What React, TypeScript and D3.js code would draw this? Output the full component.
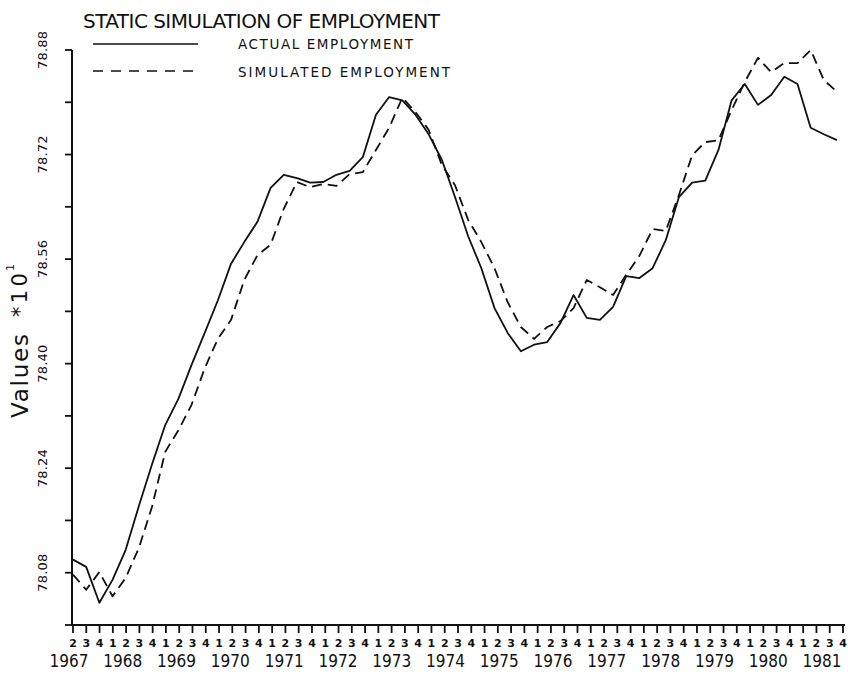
import React from "react";
import * as d3 from "d3";

// ---- data -------------------------------------------------------------
const years = [1967, 1968, 1969, 1970, 1971, 1972, 1973, 1974, 1975, 1976, 1977, 1978, 1979, 1980, 1981];
const firstQuarter = 2; // series starts in 1967 Q2, ends 1981 Q4

const actualEmployment = [
  78.100, 78.089, 78.034, 78.069, 78.115, 78.182, 78.246, 78.306, 78.346, 78.398,
  78.447, 78.497, 78.553, 78.586, 78.617, 78.669, 78.689, 78.684, 78.677, 78.678,
  78.689, 78.695, 78.716, 78.781, 78.808, 78.803, 78.781, 78.751, 78.712, 78.655,
  78.595, 78.546, 78.485, 78.447, 78.419, 78.429, 78.433, 78.462, 78.505, 78.470,
  78.467, 78.487, 78.534, 78.531, 78.546, 78.589, 78.655, 78.677, 78.680, 78.727,
  78.803, 78.828, 78.796, 78.811, 78.839, 78.828, 78.761, 78.751, 78.742,
];

const simulatedEmployment = [
  78.077, 78.054, 78.081, 78.044, 78.072, 78.118, 78.181, 78.265, 78.298, 78.337,
  78.393, 78.438, 78.467, 78.528, 78.566, 78.582, 78.637, 78.678, 78.670, 78.675,
  78.672, 78.690, 78.693, 78.727, 78.761, 78.807, 78.785, 78.758, 78.704, 78.673,
  78.620, 78.586, 78.546, 78.494, 78.456, 78.438, 78.456, 78.465, 78.485, 78.528,
  78.517, 78.505, 78.536, 78.565, 78.606, 78.603, 78.658, 78.719, 78.739, 78.742,
  78.788, 78.831, 78.868, 78.846, 78.860, 78.860, 78.880, 78.834, 78.816,
];

const yTickValues = [78.0, 78.08, 78.16, 78.24, 78.32, 78.4, 78.48, 78.56, 78.64, 78.72, 78.8, 78.88];
const yTickLabels = ["", "78.08", "", "78.24", "", "78.40", "", "78.56", "", "78.72", "", "78.88"];

const title = "STATIC SIMULATION OF EMPLOYMENT";
const legendLabels = ["ACTUAL EMPLOYMENT", "SIMULATED EMPLOYMENT"];

// periods (year, quarter) derived from categories
const periods: { year: number; q: number }[] = [];
years.forEach((y, yi) => {
  for (let q = yi === 0 ? firstQuarter : 1; q <= 4; q++) periods.push({ year: y, q });
});

// ---- layout ------------------------------------------------------------
const W = 848;
const H = 674;
const axisX = 72;
const axisY = 625;
const FONT = "'DejaVu Sans', Verdana, sans-serif";

const xData = d3.scaleLinear().domain([0, periods.length - 1]).range([73, 837]);
const xTick = d3.scaleLinear().domain([0, periods.length - 1]).range([73, 843]);
const xYear = d3.scaleLinear().domain([years[0], years[years.length - 1]]).range([69, 822]);
const y = d3.scaleLinear().domain([78.0, 78.88]).range([axisY, 50]);

const line = d3
  .line<number>()
  .x((_, i) => xData(i))
  .y((d) => y(d))
  .curve(d3.curveLinear);

export default function App() {
  return (
    <svg
      width={W}
      height={H}
      viewBox={`0 0 ${W} ${H}`}
      style={{ position: "absolute", left: 0, top: 0, background: "#fff" }}
      fontFamily={FONT}
    >
      <rect width={W} height={H} fill="#fff" />
      {/* title */}
      <text x={83} y={28} fontSize={20} fill="#111" textLength={357} lengthAdjust="spacing">
        {title}
      </text>

      {/* legend */}
      <line x1={93} x2={198} y1={44} y2={44} stroke="#111" strokeWidth={1.6} />
      <line x1={93} x2={198} y1={71} y2={71} stroke="#111" strokeWidth={1.6} strokeDasharray="10,8" />
      <text x={238} y={49} fontSize={13.5} fill="#111" textLength={175} lengthAdjust="spacing">
        {legendLabels[0]}
      </text>
      <text x={238} y={77} fontSize={13.5} fill="#111" textLength={212} lengthAdjust="spacing">
        {legendLabels[1]}
      </text>

      {/* y axis */}
      <line x1={axisX} x2={axisX} y1={y(78.88)} y2={axisY + 1} stroke="#111" strokeWidth={2} />
      {yTickValues.map((v, i) => (
        <g key={v}>
          <line x1={axisX - 7} x2={axisX} y1={y(v)} y2={y(v)} stroke="#111" strokeWidth={1.8} />
          {yTickLabels[i] && (
            <text
              transform={`translate(47,${y(v)}) rotate(-90)`}
              textAnchor="middle"
              fontSize={13}
              fill="#111"
              textLength={38}
              lengthAdjust="spacing"
            >
              {yTickLabels[i]}
            </text>
          )}
        </g>
      ))}

      {/* y axis title */}
      <text transform="translate(28,418) rotate(-90)" fontSize={23} fill="#111" textLength={84} lengthAdjust="spacing">
        Values
      </text>
      <text transform="translate(27,317) rotate(-90)" fontSize={21} fill="#111" textLength={44} lengthAdjust="spacing">
        *10
      </text>
      <text transform="translate(14,271) rotate(-90)" fontSize={11} fill="#111">
        1
      </text>

      {/* x axis */}
      <line x1={axisX - 1} x2={845} y1={axisY} y2={axisY} stroke="#111" strokeWidth={2} />
      {periods.map((p, i) => (
        <g key={i}>
          <line x1={xTick(i)} x2={xTick(i)} y1={axisY} y2={axisY + 8} stroke="#111" strokeWidth={1.8} />
          <text x={xTick(i)} y={647} textAnchor="middle" fontSize={11} fontWeight="bold" fill="#111">
            {p.q}
          </text>
        </g>
      ))}
      {years.map((yr) => (
        <text key={yr} x={xYear(yr)} y={667} textAnchor="middle" fontSize={17} fill="#111" textLength={39} lengthAdjust="spacingAndGlyphs">
          {yr}
        </text>
      ))}

      {/* series */}
      <path d={line(actualEmployment) || ""} fill="none" stroke="#111" strokeWidth={1.8} strokeLinejoin="round" />
      <path
        d={line(simulatedEmployment) || ""}
        fill="none"
        stroke="#111"
        strokeWidth={1.8}
        strokeDasharray="10,6"
        strokeLinejoin="round"
      />
    </svg>
  );
}
